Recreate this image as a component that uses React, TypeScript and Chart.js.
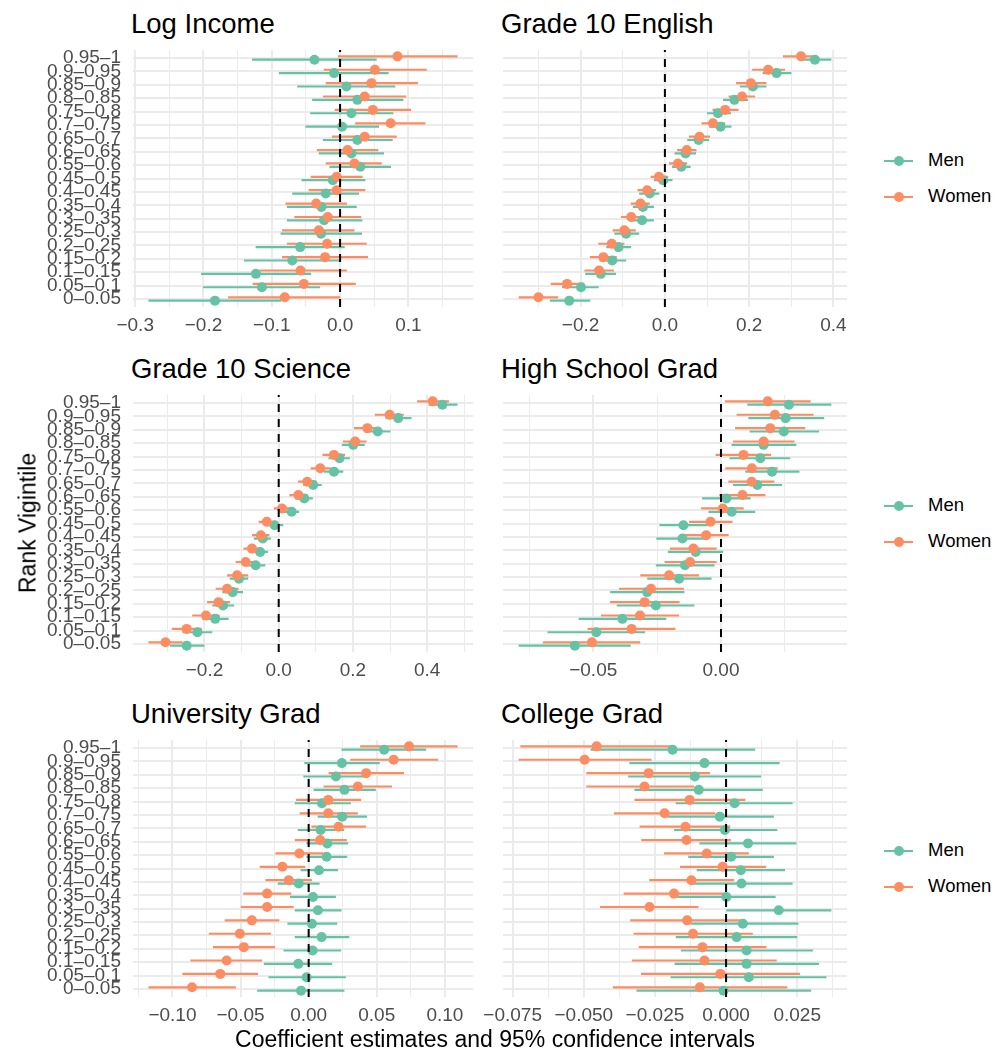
import React, { useEffect, useRef } from "react";
import { Chart, registerables } from "chart.js";

Chart.register(...registerables);

// ---------------- DATA ----------------
const vigintiles = [
  "0.95–1", "0.9–0.95", "0.85–0.9", "0.8–0.85", "0.75–0.8", "0.7–0.75",
  "0.65–0.7", "0.6–0.65", "0.55–0.6", "0.45–0.5", "0.4–0.45", "0.35–0.4",
  "0.3–0.35", "0.25–0.3", "0.2–0.25", "0.15–0.2", "0.1–0.15", "0.05–0.1", "0–0.05",
];
const seriesNames = ["Men", "Women"];

// rows: [estimate, lower, upper], ordered as vigintiles (top to bottom)
const logIncomeMen = [
  [-0.0375, -0.129, 0.0536], [-0.0088, -0.0896, 0.0711], [0.0093, -0.0628, 0.0809],
  [0.0253, -0.0409, 0.0926], [0.0166, -0.0438, 0.078], [0.0029, -0.0507, 0.057],
  [0.0253, -0.0253, 0.077], [0.0166, -0.0312, 0.0643], [0.0297, -0.0156, 0.0745],
  [-0.0107, -0.0565, 0.037], [-0.021, -0.0701, 0.0278], [-0.0273, -0.0779, 0.0244],
  [-0.0234, -0.0779, 0.0326], [-0.0278, -0.0872, 0.0321], [-0.0584, -0.1237, 0.0068],
  [-0.0701, -0.1408, 0.0], [-0.1232, -0.2036, -0.0424], [-0.1145, -0.2007, -0.0292],
  [-0.1832, -0.2806, -0.0862],
];
const logIncomeWomen = [
  [0.084, -0.003, 0.172], [0.051, -0.024, 0.127], [0.046, -0.021, 0.114],
  [0.036, -0.025, 0.097], [0.048, -0.008, 0.104], [0.074, 0.022, 0.125],
  [0.036, -0.012, 0.083], [0.011, -0.034, 0.056], [0.021, -0.021, 0.061],
  [-0.005, -0.043, 0.033], [-0.005, -0.046, 0.037], [-0.035, -0.08, 0.01],
  [-0.018, -0.067, 0.031], [-0.031, -0.085, 0.021], [-0.019, -0.078, 0.039],
  [-0.022, -0.085, 0.041], [-0.058, -0.118, 0.01], [-0.053, -0.128, 0.023],
  [-0.081, -0.164, 0.0],
];
const englishMen = [
  [0.356, 0.32, 0.395], [0.265, 0.232, 0.3], [0.209, 0.178, 0.241],
  [0.165, 0.138, 0.197], [0.126, 0.1, 0.157], [0.132, 0.105, 0.158],
  [0.08, 0.053, 0.105], [0.049, 0.023, 0.074], [0.039, 0.017, 0.061],
  [-0.004, -0.026, 0.018], [-0.036, -0.061, -0.013], [-0.052, -0.076, -0.026],
  [-0.054, -0.082, -0.026], [-0.092, -0.12, -0.061], [-0.11, -0.139, -0.08],
  [-0.125, -0.155, -0.092], [-0.152, -0.189, -0.116], [-0.199, -0.244, -0.157],
  [-0.227, -0.273, -0.177],
];
const englishWomen = [
  [0.323, 0.28, 0.36], [0.245, 0.207, 0.285], [0.204, 0.169, 0.241],
  [0.183, 0.151, 0.214], [0.143, 0.113, 0.175], [0.114, 0.087, 0.143],
  [0.082, 0.057, 0.107], [0.052, 0.029, 0.075], [0.031, 0.01, 0.053],
  [-0.014, -0.034, 0.008], [-0.042, -0.065, -0.021], [-0.058, -0.081, -0.036],
  [-0.08, -0.104, -0.055], [-0.096, -0.124, -0.069], [-0.126, -0.158, -0.096],
  [-0.146, -0.178, -0.114], [-0.156, -0.191, -0.121], [-0.232, -0.271, -0.191],
  [-0.3, -0.347, -0.253],
];
const scienceMen = [
  [0.441, 0.404, 0.482], [0.322, 0.288, 0.358], [0.267, 0.232, 0.301],
  [0.201, 0.17, 0.232], [0.164, 0.134, 0.192], [0.149, 0.122, 0.174],
  [0.093, 0.066, 0.116], [0.069, 0.044, 0.092], [0.035, 0.011, 0.055],
  [-0.011, -0.034, 0.012], [-0.043, -0.067, -0.021], [-0.05, -0.074, -0.029],
  [-0.062, -0.088, -0.036], [-0.107, -0.132, -0.082], [-0.124, -0.152, -0.096],
  [-0.15, -0.179, -0.12], [-0.171, -0.206, -0.135], [-0.219, -0.259, -0.179],
  [-0.248, -0.293, -0.2],
];
const scienceWomen = [
  [0.415, 0.373, 0.459], [0.299, 0.259, 0.337], [0.239, 0.203, 0.274],
  [0.206, 0.173, 0.237], [0.149, 0.118, 0.179], [0.112, 0.086, 0.14],
  [0.077, 0.052, 0.102], [0.053, 0.029, 0.078], [0.009, -0.013, 0.031],
  [-0.032, -0.054, -0.009], [-0.048, -0.072, -0.025], [-0.072, -0.095, -0.047],
  [-0.089, -0.116, -0.065], [-0.112, -0.139, -0.082], [-0.139, -0.17, -0.108],
  [-0.162, -0.193, -0.131], [-0.196, -0.233, -0.159], [-0.248, -0.288, -0.207],
  [-0.305, -0.351, -0.259],
];
const highSchoolMen = [
  [0.0266, 0.0103, 0.0432], [0.0253, 0.0107, 0.0404], [0.0246, 0.0112, 0.0384],
  [0.0167, 0.0041, 0.0295], [0.0154, 0.0033, 0.0271], [0.02, 0.0095, 0.0307],
  [0.0142, 0.0047, 0.0239], [0.0021, -0.0074, 0.0116], [0.0042, -0.0049, 0.0134],
  [-0.0147, -0.0241, -0.005], [-0.0151, -0.0253, -0.005], [-0.0099, -0.0208, 0.0009],
  [-0.0141, -0.0255, -0.0025], [-0.0164, -0.0289, -0.0037], [-0.0289, -0.0434, -0.0143],
  [-0.0255, -0.0408, -0.0104], [-0.0386, -0.0557, -0.0214], [-0.0488, -0.0679, -0.0297],
  [-0.0572, -0.0792, -0.0353],
];
const highSchoolWomen = [
  [0.0183, 0.0016, 0.0351], [0.0211, 0.0061, 0.0362], [0.0193, 0.0055, 0.033],
  [0.0167, 0.0047, 0.0288], [0.0088, -0.0021, 0.0196], [0.0121, 0.0017, 0.0222],
  [0.012, 0.0029, 0.0209], [0.0084, -0.0007, 0.0174], [0.0007, -0.0078, 0.0089],
  [-0.0041, -0.0125, 0.0045], [-0.0058, -0.0145, 0.003], [-0.0108, -0.02, -0.0017],
  [-0.0121, -0.0221, -0.0017], [-0.0203, -0.0316, -0.0086], [-0.0274, -0.0399, -0.0145],
  [-0.0299, -0.0434, -0.0162], [-0.0317, -0.047, -0.0164], [-0.035, -0.0522, -0.0178],
  [-0.0505, -0.0697, -0.0316],
];
const universityMen = [
  [0.0554, 0.0241, 0.0863], [0.0244, -0.0032, 0.0522], [0.02, -0.0039, 0.0439],
  [0.0263, 0.0037, 0.0493], [0.0098, -0.0102, 0.031], [0.0246, 0.0066, 0.0429],
  [0.0088, -0.008, 0.0261], [0.0137, -0.0017, 0.029], [0.0132, -0.0017, 0.0283],
  [0.0076, -0.0059, 0.0215], [-0.0073, -0.0227, 0.008], [0.0032, -0.0137, 0.02],
  [0.0068, -0.0102, 0.0241], [0.0024, -0.0156, 0.021], [0.0095, -0.0102, 0.0298],
  [0.0029, -0.0185, 0.0239], [-0.0076, -0.0329, 0.0173], [-0.0015, -0.0295, 0.0273],
  [-0.0056, -0.0378, 0.0263],
];
const universityWomen = [
  [0.0737, 0.0378, 0.1093], [0.0624, 0.0305, 0.0951], [0.0422, 0.0146, 0.07],
  [0.0361, 0.011, 0.0612], [0.0144, -0.0093, 0.0385], [0.0144, -0.0066, 0.0361],
  [0.022, 0.002, 0.0422], [0.0085, -0.0102, 0.028], [-0.0068, -0.0244, 0.0107],
  [-0.0193, -0.0359, -0.0024], [-0.0146, -0.0317, 0.0024], [-0.0305, -0.048, -0.0127],
  [-0.0305, -0.0498, -0.011], [-0.0417, -0.0617, -0.0215], [-0.0505, -0.0732, -0.0276],
  [-0.0476, -0.0702, -0.0246], [-0.0602, -0.0868, -0.0341], [-0.0649, -0.0927, -0.0371],
  [-0.0856, -0.1176, -0.0534],
];
const collegeMen = [
  [-0.0188, -0.0476, 0.0102], [-0.0076, -0.034, 0.0188], [-0.011, -0.0344, 0.0123],
  [-0.0096, -0.0322, 0.0129], [0.003, -0.0177, 0.0234], [-0.0022, -0.0207, 0.0168],
  [-0.0004, -0.0183, 0.018], [0.0077, -0.0094, 0.0247], [0.0018, -0.0133, 0.0168],
  [0.0052, -0.0103, 0.0207], [0.0054, -0.0124, 0.0234], [0.0001, -0.0171, 0.0174],
  [0.0185, 0.0001, 0.037], [0.0059, -0.0124, 0.0254], [0.0037, -0.0177, 0.025],
  [0.0072, -0.0159, 0.0305], [0.0072, -0.0181, 0.0327], [0.008, -0.0195, 0.0353],
  [-0.0009, -0.0315, 0.0299],
];
const collegeWomen = [
  [-0.0455, -0.0723, -0.0197], [-0.0497, -0.0729, -0.0262], [-0.0272, -0.0491, -0.0056],
  [-0.0287, -0.0491, -0.0112], [-0.0128, -0.0322, 0.0068], [-0.0216, -0.0394, -0.0038],
  [-0.0143, -0.0304, 0.0015], [-0.0139, -0.0298, 0.0017], [-0.0068, -0.0218, 0.008],
  [-0.0012, -0.0162, 0.0141], [-0.0122, -0.027, 0.0028], [-0.0183, -0.036, -0.0006],
  [-0.0269, -0.0443, -0.0097], [-0.0137, -0.0337, 0.0059], [-0.0116, -0.0325, 0.0094],
  [-0.0083, -0.0307, 0.0142], [-0.0076, -0.0331, 0.0178], [-0.002, -0.0299, 0.026],
  [-0.0092, -0.0398, 0.0215],
];

// x-axis tick values and labels
const logIncomeTicks = [-0.3, -0.2, -0.1, 0, 0.1];
const logIncomeTickLabels = ["−0.3", "−0.2", "−0.1", "0.0", "0.1"];
const englishTicks = [-0.2, 0, 0.2, 0.4];
const englishTickLabels = ["−0.2", "0.0", "0.2", "0.4"];
const scienceTicks = [-0.2, 0, 0.2, 0.4];
const scienceTickLabels = ["−0.2", "0.0", "0.2", "0.4"];
const highSchoolTicks = [-0.05, 0];
const highSchoolTickLabels = ["−0.05", "0.00"];
const universityTicks = [-0.1, -0.05, 0, 0.05, 0.1];
const universityTickLabels = ["−0.10", "−0.05", "0.00", "0.05", "0.10"];
const collegeTicks = [-0.075, -0.05, -0.025, 0, 0.025];
const collegeTickLabels = ["−0.075", "−0.050", "−0.025", "0.000", "0.025"];

const panelTitles = ["Log Income", "Grade 10 English", "Grade 10 Science", "High School Grad", "University Grad", "College Grad"];
const yAxisTitle = "Rank Vigintile";
const xAxisTitle = "Coefficient estimates and 95% confidence intervals";

// ---------------- STYLE ----------------
const COLORS = ["#66C2A5", "#FC8D62"];
const FONT = "'Liberation Sans', Arial, Helvetica, sans-serif";
const GRID = "#EBEBEB";
const TICK_COLOR = "#4D4D4D";
const TICK_SIZE = 19;

type Row = number[];
interface PanelCfg {
  title: string;
  men: Row[];
  women: Row[];
  ticks: number[];
  labels: string[];
}

const panels: PanelCfg[] = [
  { title: panelTitles[0], men: logIncomeMen, women: logIncomeWomen, ticks: logIncomeTicks, labels: logIncomeTickLabels },
  { title: panelTitles[1], men: englishMen, women: englishWomen, ticks: englishTicks, labels: englishTickLabels },
  { title: panelTitles[2], men: scienceMen, women: scienceWomen, ticks: scienceTicks, labels: scienceTickLabels },
  { title: panelTitles[3], men: highSchoolMen, women: highSchoolWomen, ticks: highSchoolTicks, labels: highSchoolTickLabels },
  { title: panelTitles[4], men: universityMen, women: universityWomen, ticks: universityTicks, labels: universityTickLabels },
  { title: panelTitles[5], men: collegeMen, women: collegeWomen, ticks: collegeTicks, labels: collegeTickLabels },
];

const zeroLine = {
  id: "zeroLine",
  afterDatasetsDraw(chart: any) {
    const { ctx, chartArea, scales } = chart;
    const x = scales.x.getPixelForValue(0);
    ctx.save();
    ctx.strokeStyle = "#000000";
    ctx.lineWidth = 2;
    ctx.setLineDash([8, 7]);
    ctx.beginPath();
    ctx.moveTo(x, chartArea.bottom);
    ctx.lineTo(x, chartArea.top);
    ctx.stroke();
    ctx.restore();
  },
};

function Panel(props: { cfg: PanelCfg; left: number; top: number; width: number; height: number; yWidth: number; padRight: number; showY: boolean }) {
  const { cfg, left, top, width, height, yWidth, padRight, showY } = props;
  const ref = useRef<HTMLCanvasElement>(null);

  useEffect(() => {
    if (!ref.current) return;
    const n = vigintiles.length;
    const yOf = (i: number) => n - i;
    const all = [...cfg.men, ...cfg.women];
    const lo = Math.min(...all.map((r) => r[1]));
    const hi = Math.max(...all.map((r) => r[2]));
    const pad = (hi - lo) * 0.05;
    const xmin = lo - pad;
    const xmax = hi + pad;
    const step = cfg.ticks.length > 1 ? cfg.ticks[1] - cfg.ticks[0] : 0.1;
    const majors = cfg.ticks.filter((v) => v >= xmin && v <= xmax);
    const minorSet: number[] = [];
    cfg.ticks.forEach((t) => {
      [t - step / 2, t + step / 2].forEach((m) => {
        if (m >= xmin && m <= xmax && !minorSet.some((q) => Math.abs(q - m) < 1e-9)) minorSet.push(m);
      });
    });
    const gridVals = [...majors, ...minorSet].sort((a, b) => a - b);
    const isMajor = (v: number) => cfg.ticks.some((t) => Math.abs(t - v) < 1e-9);
    const dodge = 0.125;

    const segs = (rows: Row[], off: number) =>
      rows.flatMap((r, i) => [
        { x: r[1], y: yOf(i) + off },
        { x: r[2], y: yOf(i) + off },
        { x: null, y: null },
      ]);
    const pts = (rows: Row[], off: number) => rows.map((r, i) => ({ x: r[0], y: yOf(i) + off }));

    const chart = new Chart(ref.current, {
      type: "scatter",
      data: {
        datasets: [
          {
            label: seriesNames[1] + " point",
            data: pts(cfg.women, dodge) as any,
            pointRadius: 5,
            pointBorderWidth: 0,
            pointBackgroundColor: COLORS[1],
            backgroundColor: COLORS[1],
            showLine: false,
            order: 0,
          },
          {
            label: seriesNames[0] + " point",
            data: pts(cfg.men, -dodge) as any,
            pointRadius: 5,
            pointBorderWidth: 0,
            pointBackgroundColor: COLORS[0],
            backgroundColor: COLORS[0],
            showLine: false,
            order: 1,
          },
          {
            label: seriesNames[1] + " interval",
            data: segs(cfg.women, dodge) as any,
            showLine: true,
            spanGaps: false,
            pointRadius: 0,
            borderColor: COLORS[1],
            borderWidth: 2.2,
            borderCapStyle: "butt",
            order: 2,
          },
          {
            label: seriesNames[0] + " interval",
            data: segs(cfg.men, -dodge) as any,
            showLine: true,
            spanGaps: false,
            pointRadius: 0,
            borderColor: COLORS[0],
            borderWidth: 2.2,
            borderCapStyle: "butt",
            order: 3,
          },
        ],
      },
      options: {
        responsive: false,
        animation: false,
        devicePixelRatio: 1,
        events: [],
        layout: { padding: { left: 0, top: 10, right: padRight, bottom: 0 } },
        plugins: {
          legend: { display: false },
          tooltip: { enabled: false },
          title: { display: false },
        },
        scales: {
          x: {
            type: "linear",
            min: xmin,
            max: xmax,
            afterBuildTicks: (s: any) => {
              s.ticks = gridVals.map((v) => ({ value: v }));
            },
            afterFit: (s: any) => {
              s.height = 38;
              s.paddingLeft = 0;
              s.paddingRight = 0;
              s.paddingTop = 0;
              s.paddingBottom = 0;
            },
            ticks: {
              autoSkip: false,
              maxRotation: 0,
              padding: 7,
              color: TICK_COLOR,
              font: { family: FONT, size: TICK_SIZE },
              callback: (v: any) => {
                const idx = cfg.ticks.findIndex((t) => Math.abs(t - Number(v)) < 1e-9);
                return idx >= 0 ? cfg.labels[idx] : "";
              },
            },
            grid: {
              color: GRID,
              drawTicks: false,
              lineWidth: (c: any) => (c.tick && isMajor(c.tick.value) ? 2 : 1),
            },
            border: { display: false },
          },
          y: {
            type: "linear",
            min: 0.4,
            max: n + 0.6,
            afterBuildTicks: (s: any) => {
              s.ticks = vigintiles.map((_, i) => ({ value: yOf(i) })).sort((a, b) => a.value - b.value);
            },
            afterFit: (s: any) => {
              s.width = yWidth;
              s.paddingTop = 0;
              s.paddingBottom = 0;
              s.paddingLeft = 0;
              s.paddingRight = 0;
            },
            ticks: {
              display: showY,
              autoSkip: false,
              padding: 12,
              color: TICK_COLOR,
              font: { family: FONT, size: TICK_SIZE },
              callback: (v: any) => vigintiles[n - Math.round(Number(v))],
            },
            grid: { color: GRID, drawTicks: false, lineWidth: 2 },
            border: { display: false },
          },
        },
      },
      plugins: [zeroLine],
    } as any);
    return () => chart.destroy();
  }, [cfg, yWidth, padRight, showY]);

  return (
    <canvas
      ref={ref}
      width={width}
      height={height}
      style={{ position: "absolute", left, top, width, height }}
    />
  );
}

function LegendBlock(props: { centerY: number }) {
  const items = [
    { name: seriesNames[0], color: COLORS[0], y: props.centerY - 18 },
    { name: seriesNames[1], color: COLORS[1], y: props.centerY + 18 },
  ];
  return (
    <>
      {items.map((it) => (
        <React.Fragment key={it.name}>
          <div style={{ position: "absolute", left: 884, top: it.y - 1, width: 29, height: 2.2, background: it.color }} />
          <div style={{ position: "absolute", left: 893.5, top: it.y - 5, width: 10, height: 10, borderRadius: "50%", background: it.color }} />
          <div
            style={{
              position: "absolute",
              left: 928,
              top: it.y - 9.25,
              height: 18.5,
              lineHeight: "18.5px",
              fontSize: 18.5,
              color: "#000",
              whiteSpace: "nowrap",
            }}
          >
            {it.name}
          </div>
        </React.Fragment>
      ))}
    </>
  );
}

export default function App() {
  const rowTops = [40, 385, 730];
  const titleTops = [10, 355, 700];
  const rowCenters = [178.5, 523.5, 868.5];
  return (
    <div
      style={{
        position: "absolute",
        left: 0,
        top: 0,
        width: 997,
        height: 1051,
        background: "#ffffff",
        fontFamily: FONT,
        overflow: "hidden",
      }}
    >
      {panels.map((p, k) => {
        const row = Math.floor(k / 2);
        const col = k % 2;
        return (
          <React.Fragment key={p.title}>
            <div
              style={{
                position: "absolute",
                left: col === 0 ? 131 : 501,
                top: titleTops[row],
                fontSize: 27.5,
                lineHeight: "27.5px",
                color: "#000",
                whiteSpace: "nowrap",
              }}
            >
              {p.title}
            </div>
            <Panel
              cfg={p}
              left={col === 0 ? 0 : 480}
              top={rowTops[row]}
              width={col === 0 ? 480 : 380}
              height={305}
              yWidth={col === 0 ? 133 : 23}
              padRight={col === 0 ? 7 : 13}
              showY={col === 0}
            />
          </React.Fragment>
        );
      })}
      {rowCenters.map((c) => (
        <LegendBlock key={c} centerY={c} />
      ))}
      <div
        style={{
          position: "absolute",
          left: 28,
          top: 523,
          fontSize: 23,
          lineHeight: "23px",
          color: "#000",
          whiteSpace: "nowrap",
          transform: "translate(-50%, -50%) rotate(-90deg)",
        }}
      >
        {yAxisTitle}
      </div>
      <div
        style={{
          position: "absolute",
          left: 495,
          top: 1027.5,
          fontSize: 23,
          lineHeight: "23px",
          color: "#000",
          whiteSpace: "nowrap",
          transform: "translateX(-50%)",
        }}
      >
        {xAxisTitle}
      </div>
    </div>
  );
}
